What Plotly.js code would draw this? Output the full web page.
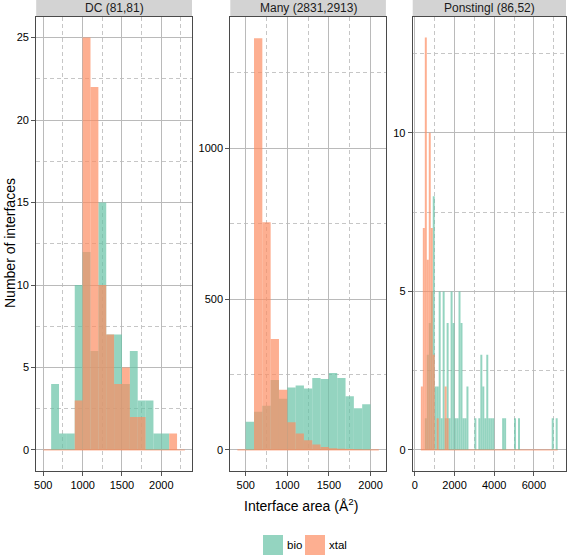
<!DOCTYPE html>
<html><head><meta charset="utf-8">
<script src="https://cdn.plot.ly/plotly-3.0.1.min.js"></script>
<style>html,body{margin:0;padding:0;background:#fff}#chart{width:567px;height:555px}</style>
</head><body><div id="chart"></div>
<script>
// ---- data (bin start values, bin width 100) ----
const binWidth = 100;
const panelTitles = ["DC (81,81)", "Many (2831,2913)", "Ponstingl (86,52)"];
const seriesNames = ["bio", "xtal"];

// DC
const dcBins = [600,700,800,900,1000,1100,1200,1300,1400,1500,1600,1700,1800,1900,2000,2100];
const dcBio  = [4,1,1,10,12,6,15,7,7,4,6,3,3,1,1,0];
const dcXtal = [0,0,0,3,25,22,10,7,4,5,2,2,0,0,0,1];
const dcSpan = [500, 2300];

// Many
const manyBins = [400,500,600,700,800,900,1000,1100,1200,1300,1400,1500,1600,1700,1800,1900,2000];
const manyBio  = [0,94,127,147,232,170,207,214,204,239,235,255,239,178,138,152,0];
const manyXtal = [1,0,1365,755,368,200,92,55,32,18,10,6,4,3,2,1,1];
const manySpan = [400, 2100];

// Ponstingl
const ponBioBins = [500,600,700,800,900,1000,1100,1200,1300,1400,1500,1600,1700,1800,1900,2000,2100,2200,2300,2400,2500,2600,3000,3200,3300,3400,3500,3600,3700,3800,3900,4400,4500,5000,5200,6900,7100];
const ponBio     = [1,3,4,5,8,2,2,5,1,5,1,4,1,5,4,1,1,5,4,1,1,2,1,1,3,2,1,3,1,1,1,1,1,1,1,1,1];
const ponXtalBins = [300,400,500,600,700,800,900,1100,1500,1600];
const ponXtal     = [2,7,13,6,10,7,3,1,2,1];
const ponSpan = [300, 7200];

// tick values (major / minor grid)
const dcXTicks = [500,1000,1500,2000],      dcXMinor = [750,1250,1750,2250];
const manyXTicks = [500,1000,1500,2000],    manyXMinor = [750,1250,1750];
const ponXTicks = [0,2000,4000,6000],       ponXMinor = [1000,3000,5000,7000];
const dcYTicks = [0,5,10,15,20,25],         dcYMinor = [2.5,7.5,12.5,17.5,22.5];
const manyYTicks = [0,500,1000],            manyYMinor = [250,750,1250];
const ponYTicks = [0,5,10],                 ponYMinor = [2.5,7.5,12.5];

// ---- styling ----
const bioColor = 'rgba(102,194,165,0.7)';
const xtalColor = 'rgba(252,141,98,0.7)';
const font = 'Liberation Sans, Arial, sans-serif';
const W = 567, H = 555;

function centers(bins){ return bins.map(b => b + binWidth/2); }
function bars(bins, vals, color, name, xa, ya){
  return {type:'bar', x:centers(bins), y:vals, width:bins.map(()=>binWidth), name:name,
    marker:{color:color, line:{width:0}}, xaxis:xa, yaxis:ya, showlegend:false, hoverinfo:'x+y'};
}
function zeroLine(span, xa, ya){
  return {type:'scatter', mode:'lines', x:span, y:[0,0], line:{color:xtalColor, width:1},
    xaxis:xa, yaxis:ya, showlegend:false, hoverinfo:'skip'};
}

const traces = [
  bars(dcBins, dcBio, bioColor, seriesNames[0], 'x', 'y'),
  bars(dcBins, dcXtal, xtalColor, seriesNames[1], 'x', 'y'),
  zeroLine(dcSpan, 'x', 'y'),
  bars(manyBins, manyBio, bioColor, seriesNames[0], 'x2', 'y2'),
  bars(manyBins, manyXtal, xtalColor, seriesNames[1], 'x2', 'y2'),
  zeroLine(manySpan, 'x2', 'y2'),
  bars(ponBioBins, ponBio, bioColor, seriesNames[0], 'x3', 'y3'),
  bars(ponXtalBins, ponXtal, xtalColor, seriesNames[1], 'x3', 'y3'),
  zeroLine(ponSpan, 'x3', 'y3')
];

const yDom = [(H-470.6)/H, (H-17)/H];
const xDoms = [[36.2/W, 192/W], [230.3/W, 385.9/W], [412.7/W, 566/W]];

function axis(dom, range, ticks, minorTicks, anchor){
  return {
    domain:dom, range:range, anchor:anchor,
    tickmode:'array', tickvals:ticks,
    showline:true, mirror:true, linecolor:'#4a4a4a', linewidth:1,
    showgrid:true, gridcolor:'#bababa', gridwidth:1,
    zeroline:false, ticks:'outside', ticklen:4, tickcolor:'#555', tickwidth:1,
    tickfont:{family:font, size:11, color:'#000'},
    minor:{tickmode:'array', tickvals:minorTicks, ticks:'', showgrid:true,
      gridcolor:'#c6c6c6', griddash:'4px,3px', gridwidth:1},
    fixedrange:true
  };
}

const shapes = [];
const annotations = [];
xDoms.forEach((d, i) => {
  shapes.push({type:'rect', xref:'paper', yref:'paper', x0:d[0], x1:d[1], y0:(H-16)/H, y1:1,
    fillcolor:'#d3d3d3', line:{width:0}, layer:'below'});
  annotations.push({xref:'paper', yref:'paper', x:(d[0]+d[1])/2, y:(H-8)/H, text:panelTitles[i],
    showarrow:false, xanchor:'center', yanchor:'middle', font:{family:font, size:12, color:'#1a1a1a'}});
});
// axis titles
annotations.push({xref:'paper', yref:'paper', x:10/W, y:(H-243)/H, text:'Number of interfaces', textangle:-90,
  showarrow:false, xanchor:'center', yanchor:'middle', font:{family:font, size:14, color:'#000'}});
annotations.push({xref:'paper', yref:'paper', x:301/W, y:(H-505)/H, text:'Interface area (Å<sup>2</sup>)',
  showarrow:false, xanchor:'center', yanchor:'middle', font:{family:font, size:14, color:'#000'}});
// legend
const legendColors = [bioColor, xtalColor];
const legendX = [263, 305];
seriesNames.forEach((n, i) => {
  shapes.push({type:'rect', xref:'paper', yref:'paper', x0:legendX[i]/W, x1:(legendX[i]+20)/W,
    y0:0, y1:(H-535)/H, fillcolor:legendColors[i], line:{width:0}});
  annotations.push({xref:'paper', yref:'paper', x:(legendX[i]+22)/W, y:(H-545)/H, text:n,
    showarrow:false, xanchor:'left', yanchor:'middle', font:{family:font, size:11.5, color:'#000'}});
});

const layout = {
  width:W, height:H, margin:{l:0, r:0, t:0, b:0, pad:0},
  paper_bgcolor:'#fff', plot_bgcolor:'#fff', barmode:'overlay', showlegend:false,
  xaxis: axis(xDoms[0], [410, 2390], dcXTicks, dcXMinor, 'y'),
  yaxis: axis(yDom, [-1.25, 26.25], dcYTicks, dcYMinor, 'x'),
  xaxis2: axis(xDoms[1], [315, 2185], manyXTicks, manyXMinor, 'y2'),
  yaxis2: axis(yDom, [-68.35, 1435.35], manyYTicks, manyYMinor, 'x2'),
  xaxis3: axis(xDoms[2], [-111, 7620], ponXTicks, ponXMinor, 'y3'),
  yaxis3: axis(yDom, [-0.65, 13.65], ponYTicks, ponYMinor, 'x3'),
  shapes:shapes, annotations:annotations
};

Plotly.newPlot('chart', traces, layout, {displayModeBar:false, staticPlot:true});
</script></body></html>
